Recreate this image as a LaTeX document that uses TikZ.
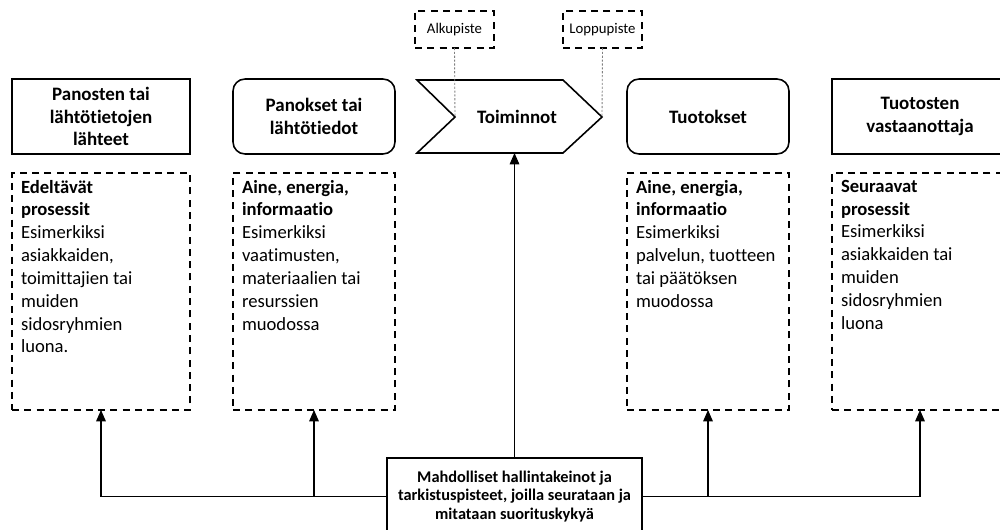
\documentclass[tikz,border=0pt]{standalone}
\usepackage{fontspec}
\setmainfont{Carlito}[Ligatures=NoCommon]
\usetikzlibrary{arrows.meta}
\begin{document}
\begin{tikzpicture}[x=0.02cm,y=-0.02cm,
  every node/.style={inner sep=0pt, outer sep=0pt},
  head/.style={draw, line width=0.9pt, font=\fontsize{10.8}{13}\selectfont\bfseries, align=center, minimum height=1.5cm},
  squarebox/.style={head},
  roundbox/.style={head, rounded corners=0.24cm},
  notebox/.style={draw, line width=0.9pt, dash pattern=on 4pt off 3pt, minimum height=4.74cm},
  bodytext/.style={anchor=north west, align=left, font=\fontsize{10.6}{13}\selectfont},
  tagbox/.style={draw, line width=0.9pt, dash pattern=on 4pt off 3pt, minimum width=1.58cm, minimum height=0.74cm, font=\fontsize{8.4}{10}\selectfont},
  guide/.style={draw=gray, line width=0.5pt, dash pattern=on 1.2pt off 1pt},
  link/.style={line width=0.6pt, -{Triangle[width=5.5pt,length=6.5pt]}},
]
\useasboundingbox (0,0) rectangle (1000,530);
\clip (0,0) rectangle (1000,530);

% top row of headings
\node[squarebox, minimum width=3.56cm] (src) at (101,116.5) {Panosten tai\\lähtötietojen\\lähteet};
\node[roundbox, minimum width=3.24cm] (inp) at (314,116.5) {Panokset tai\\lähtötiedot};
\node[roundbox, minimum width=3.24cm] (out) at (708,116.5) {Tuotokset};
\node[squarebox, minimum width=3.52cm] (rcv) at (920,116.5) {Tuotosten\\vastaanottaja};

% process chevron
\draw[line width=0.9pt] (417,80) -- (563,80) -- (602,117) coordinate (tip)
  -- (563,153) -- (417,153) -- (455,117) coordinate (notch) -- cycle;
\node[font=\fontsize{10.8}{13}\selectfont\bfseries] (act) at (517,117) {Toiminnot};
\coordinate (chevbot) at (514,153);

% start and end markers
\node[tagbox] (start) at (454.5,29.5) {Alkupiste};
\node[tagbox] (end) at (602.5,29.5) {Loppupiste};
\draw[guide] (start.south) -- (notch);
\draw[guide] (end.south) -- (tip);

% dashed description boxes
\node[notebox, minimum width=3.56cm] (A) at (101,291.5) {};
\node[notebox, minimum width=3.24cm] (B) at (314,291.5) {};
\node[notebox, minimum width=3.24cm] (C) at (708,291.5) {};
\node[notebox, minimum width=3.52cm] (D) at (920,291.5) {};

\node[bodytext] (At) at ([shift={(9,7)}]A.north west)
  {\textbf{Edeltävät}\\\textbf{prosessit}\\Esimerkiksi\\asiakkaiden,\\toimittajien tai\\muiden\\sidosryhmien\\luona.};
\node[bodytext] (Bt) at ([shift={(9,7)}]B.north west)
  {\textbf{Aine, energia,}\\\textbf{informaatio}\\Esimerkiksi\\vaatimusten,\\materiaalien tai\\resurssien\\muodossa};
\node[bodytext] (Ct) at ([shift={(9,7)}]C.north west)
  {\textbf{Aine, energia,}\\\textbf{informaatio}\\Esimerkiksi\\palvelun, tuotteen\\tai päätöksen\\muodossa};
\node[bodytext] (Dt) at ([shift={(9,7)}]D.north west)
  {\textbf{Seuraavat}\\\textbf{prosessit}\\Esimerkiksi\\asiakkaiden tai\\muiden\\sidosryhmien\\luona};

% control box
\node[draw, line width=0.9pt, minimum width=5.1cm, minimum height=1.54cm, align=center,
      font=\fontsize{9.3}{10.6}\selectfont\bfseries] (ctrl) at (514.5,496.5)
  {Mahdolliset hallintakeinot ja\\tarkistuspisteet, joilla seurataan ja\\mitataan suorituskykyä};

% feedback connectors
\draw[link] (ctrl.west) -| (A.south);
\draw[link] (ctrl.east) -| (D.south);
\draw[link] (B.south |- ctrl.west) -- (B.south);
\draw[link] (C.south |- ctrl.east) -- (C.south);
\draw[link] (ctrl.north) -- (ctrl.north |- chevbot);
\end{tikzpicture}
\end{document}
